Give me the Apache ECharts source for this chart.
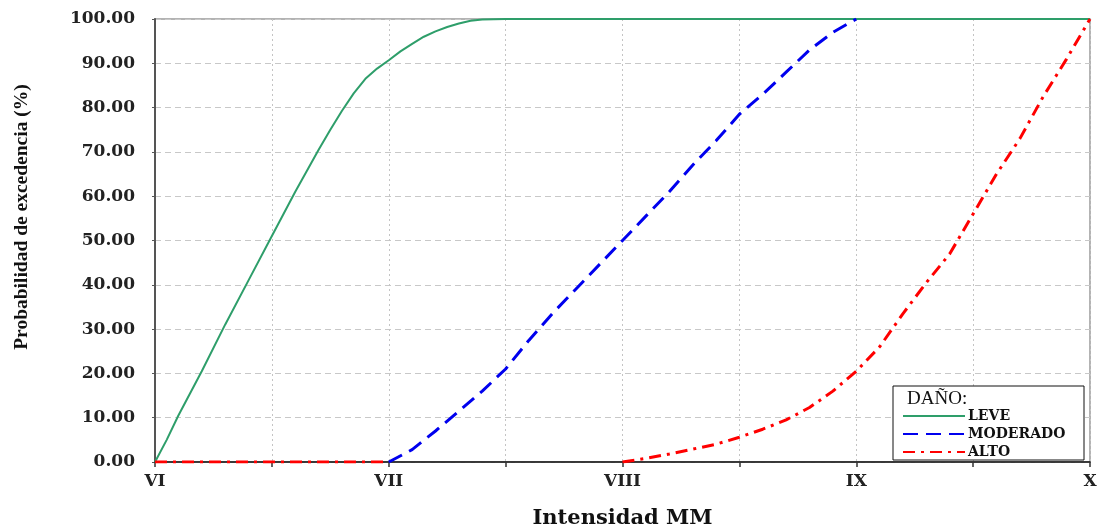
<!DOCTYPE html>
<html>
<head>
<meta charset="utf-8">
<script src="https://cdn.jsdelivr.net/npm/echarts@6/dist/echarts.min.js"></script>
<style>
html, body { margin: 0; padding: 0; background: #fff; }
#container { width: 1100px; height: 529px; }
</style>
</head>
<body>
<div id="container"></div>
<script>
// intensidad MM (VI=6 ... X=10) y probabilidad de excedencia (%)
let leveX = [6.0, 6.05, 6.1, 6.2, 6.3, 6.4, 6.5, 6.6, 6.7, 6.75, 6.8, 6.85, 6.9, 6.95, 7.0, 7.05, 7.1, 7.15, 7.2, 7.25, 7.3, 7.35, 7.4, 7.5, 8.0, 9.0, 10.0];
let leveY = [0, 5, 10.5, 20.5, 31, 41, 51, 61, 70.5, 75, 79.3, 83.2, 86.5, 88.8, 90.7, 92.7, 94.4, 96, 97.2, 98.2, 99, 99.6, 99.9, 100, 100, 100, 100];

let moderadoX = [7.0, 7.1, 7.2, 7.3, 7.4, 7.5, 7.6, 7.7, 7.8, 7.9, 8.0, 8.1, 8.2, 8.3, 8.4, 8.5, 8.6, 8.7, 8.8, 8.9, 9.0];
let moderadoY = [0, 2.8, 7, 11.5, 16, 21, 27.5, 33.5, 39, 44.5, 50, 55.5, 61, 67, 72.5, 78.5, 83, 88, 93, 97, 100];

// el tramo VII-VIII no se ve en el original
let altoX = [6.0, 7.0, 7.5, 8.0, 8.1, 8.2, 8.3, 8.4, 8.5, 8.6, 8.7, 8.8, 8.9, 9.0, 9.1, 9.2, 9.3, 9.4, 9.5, 9.6, 9.7, 9.8, 9.9, 10.0];
let altoY = [0, 0, '-', 0, 0.8, 1.8, 2.9, 4, 5.6, 7.4, 9.5, 12.3, 16, 20.5, 26, 33.5, 40.5, 47, 56, 65, 73, 82.5, 91, 100];

let romanos = {6: 'VI', 7: 'VII', 8: 'VIII', 9: 'IX', 10: 'X'};

function pares(xs, ys) {
    let arr = [];
    for (let i = 0; i < xs.length; i++) {
        arr.push([xs[i], ys[i]]);
    }
    return arr;
}

let serif = 'DejaVu Serif';

let dom = document.getElementById('container');
let myChart = echarts.init(dom);

let option = {
    animation: false,
    backgroundColor: '#fff',
    grid: {
        left: 155, right: 10, top: 19, bottom: 67,
        containLabel: false,
        outerBoundsMode: 'none',
        show: true, borderColor: '#9a9a9a', borderWidth: 1.5
    },
    xAxis: {
        type: 'value',
        min: 6, max: 10, interval: 0.5,
        name: 'Intensidad MM',
        nameLocation: 'middle',
        nameGap: 46,
        nameTextStyle: { fontFamily: serif, fontWeight: 'bold', fontSize: 21, color: '#111' },
        axisLine: { lineStyle: { color: '#111', width: 1.5 } },
        axisTick: { show: true, length: 5, lineStyle: { color: '#333', width: 1.5 } },
        axisLabel: {
            margin: 11,
            fontFamily: serif, fontWeight: 'bold', fontSize: 17, color: '#222',
            formatter: function (v) { return romanos[v] || ''; }
        },
        splitLine: { show: true, lineStyle: { color: '#c4c4c4', type: [2, 3], width: 1 } }
    },
    yAxis: {
        type: 'value',
        min: 0, max: 100, interval: 10,
        axisLine: { show: true, lineStyle: { color: '#555', width: 2 } },
        axisTick: { show: true, length: 3, lineStyle: { color: '#555' } },
        axisLabel: {
            margin: 20,
            fontFamily: serif, fontWeight: 'bold', fontSize: 17, color: '#222',
            formatter: function (v) { return v.toFixed(2); }
        },
        splitLine: { show: true, lineStyle: { color: '#c8c8c8', type: [6, 4], width: 1 } }
    },
    legend: {
        orient: 'vertical',
        left: 902, top: 409,
        itemWidth: 62, itemHeight: 12, itemGap: 4,
        padding: 0,
        z: 100,
        itemStyle: { opacity: 0 },
        textStyle: { fontFamily: serif, fontWeight: 'bold', fontSize: 14, color: '#111', padding: [0, 0, 0, -2] },
        data: ['LEVE', 'MODERADO', 'ALTO']
    },
    graphic: [
        {
            type: 'text',
            x: 22, y: 217,
            rotation: Math.PI / 2,
            style: {
                text: 'Probabilidad de excedencia (%)',
                fontFamily: 'Liberation Serif', fontWeight: 'bold', fontSize: 19.5, fill: '#111',
                align: 'center', verticalAlign: 'middle'
            }
        },
        {
            type: 'rect',
            shape: { x: 893, y: 386, width: 191, height: 74 },
            style: { fill: '#fff', stroke: '#111', lineWidth: 1 },
            z: 90
        },
        {
            type: 'text',
            left: 907, top: 390,
            style: { text: 'DAÑO:', fontFamily: 'Liberation Serif', fontSize: 19, fill: '#111' },
            z: 91
        }
    ],
    series: [
        {
            name: 'LEVE',
            type: 'line',
            symbol: 'none',
            data: pares(leveX, leveY),
            lineStyle: { color: '#2e9e6a', width: 2 },
            itemStyle: { color: '#2e9e6a' }
        },
        {
            name: 'MODERADO',
            type: 'line',
            symbol: 'none',
            data: pares(moderadoX, moderadoY),
            lineStyle: { color: '#0000ee', width: 3, type: [15, 8] },
            itemStyle: { color: '#0000ee' }
        },
        {
            name: 'ALTO',
            type: 'line',
            symbol: 'none',
            data: pares(altoX, altoY),
            lineStyle: { color: '#ff0000', width: 3, type: [12, 6, 3, 6] },
            itemStyle: { color: '#ff0000' }
        }
    ]
};

if (option && typeof option === 'object') {
    myChart.setOption(option, true);
}
</script>
</body>
</html>
